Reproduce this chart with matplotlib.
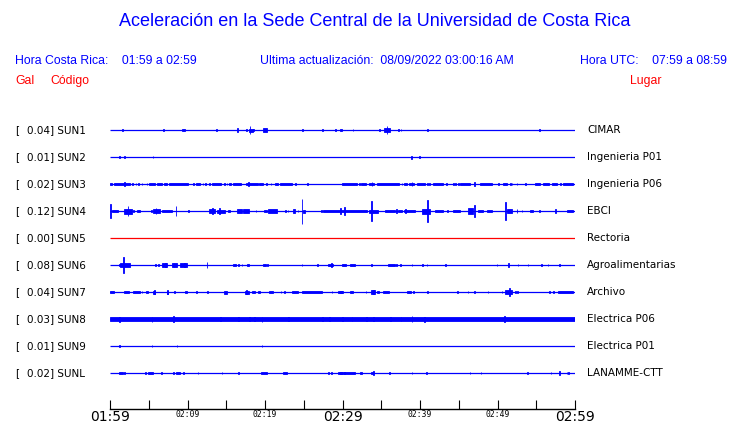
import matplotlib
matplotlib.use('Agg')
import matplotlib.pyplot as plt

# estaciones, aceleracion maxima (Gal) y lugar
stations = ['SUN1', 'SUN2', 'SUN3', 'SUN4', 'SUN5', 'SUN6', 'SUN7', 'SUN8', 'SUN9', 'SUNL']
gal = [0.04, 0.01, 0.02, 0.12, 0.00, 0.08, 0.04, 0.03, 0.01, 0.02]
places = ['CIMAR', 'Ingenieria P01', 'Ingenieria P06', 'EBCI', 'Rectoria',
          'Agroalimentarias', 'Archivo', 'Electrica P06', 'Electrica P01', 'LANAMME-CTT']

# minutos desde 01:59 -> etiquetas
tick_minutes = [0, 5, 10, 15, 20, 25, 30, 35, 40, 45, 50, 55, 60]
tick_labels = ['01:59', '', '02:09', '', '02:19', '', '02:29', '', '02:39', '', '02:49', '', '02:59']

# rafagas de cada traza: (minuto inicio, minuto fin, amplitud relativa)
sun1 = [(1.6, 1.6, 1), (6.9, 6.9, 1), (9.3, 9.7, 1.3), (13.7, 13.7, 1), (16.4, 16.5, 2.3),
        (17.6, 17.6, 1), (18.0, 18.0, 4), (17.9, 18.4, 1.5), (18.5, 18.5, 1), (19.7, 20.2, 1.7),
        (24.8, 24.8, 1), (27.4, 27.4, 1), (29.0, 29.2, 1.3), (29.7, 29.9, 1), (31.3, 31.3, 1),
        (34.7, 34.7, 1), (35.7, 35.7, 4), (35.4, 36.1, 1.7), (37.2, 37.2, 1.3), (37.5, 37.5, 1),
        (40.9, 40.9, 1), (55.4, 55.4, 1)]
sun2 = [(1.2, 1.2, 1), (1.8, 1.8, 1), (5.5, 5.5, 1.3), (38.8, 39.0, 1.5), (39.9, 39.9, 1)]
sun3 = [(0.0, 0.2, 1.3), (0.52, 2.58, 1.3), (1.85, 1.85, 1.8), (2.88, 2.88, 1.3), (3.31, 3.31, 1.3),
        (3.66, 3.74, 1.3), (4.09, 4.09, 1.3), (4.73, 4.73, 1.3), (5.08, 5.81, 1.3), (6.02, 6.75, 1.3),
        (7.01, 7.31, 1.3), (7.66, 10.02, 1.3), (10.75, 10.75, 1.3), (11.1, 11.6, 1.3), (11.96, 11.96, 1.3),
        (12.26, 12.26, 1.3), (12.82, 12.82, 1.3), (13.2, 14.32, 1.3), (14.7, 14.7, 1.3), (15.05, 15.05, 1.3),
        (15.35, 15.6, 1.3), (15.83, 16.9, 1.3), (17.5, 19.05, 1.3), (17.85, 17.85, 1.8), (19.27, 19.78, 1.3),
        (20.13, 20.13, 1.3), (20.73, 20.73, 1.3), (21.29, 21.63, 1.3), (21.94, 23.44, 1.3), (23.87, 23.87, 1.3),
        (25.46, 25.46, 1.3), (29.89, 31.83, 1.3), (32.13, 32.13, 1.3), (32.39, 33.03, 1.3), (33.42, 34.1, 1.3),
        (33.76, 33.76, 1.6), (34.4, 37.33, 1.3), (37.63, 37.63, 1.3), (37.93, 38.28, 1.3), (38.62, 39.23, 1.3),
        (38.92, 38.92, 1.8), (39.57, 40.65, 1.3), (40.95, 40.95, 1.3), (41.2, 41.2, 1.3), (41.72, 42.92, 1.3),
        (43.35, 43.35, 1.3), (44.3, 44.3, 1.3), (44.52, 44.52, 1.3), (44.95, 44.95, 1.3), (45.16, 46.45, 1.3),
        (47.01, 47.01, 1.8), (47.74, 49.25, 1.3), (50.11, 50.11, 1.3), (50.75, 51.18, 1.3), (51.61, 51.61, 1.3),
        (51.83, 51.83, 1.3), (52.47, 52.47, 1.3), (53.59, 53.59, 1.3), (54.84, 55.48, 1.3), (55.91, 56.69, 1.3),
        (56.99, 57.63, 1.3), (58.06, 58.06, 1.3), (58.41, 59.78, 1.3)]
sun4 = [(0.0, 0.0, 6.7), (0.21, 0.99, 1.0), (1.81, 2.8, 2.5), (2.28, 2.28, 5.3), (3.01, 3.14, 1.0),
        (3.44, 3.87, 1.3), (5.29, 5.38, 1.0), (5.59, 6.45, 1.8), (5.89, 5.89, 2.7), (6.67, 7.96, 1.3),
        (8.47, 8.47, 4.7), (10.1, 10.1, 1.0), (12.82, 13.55, 2.0), (13.2, 13.2, 2.7), (13.76, 14.84, 1.5),
        (14.1, 14.1, 2.7), (15.27, 15.48, 1.0), (16.34, 16.99, 2.0), (17.2, 17.94, 1.7), (18.8, 18.8, 1.0),
        (19.91, 20.2, 1.0), (20.34, 21.5, 1.7), (22.58, 22.58, 1.0), (22.92, 22.92, 1.0), (23.66, 23.87, 2.0),
        (24.2, 24.2, 1.0), (24.73, 24.73, 12.5), (24.95, 25.16, 1.5), (27.23, 27.23, 1.0), (27.53, 29.68, 1.3),
        (29.68, 29.68, 2.7), (30.19, 30.19, 4.0), (29.68, 33.12, 1.3), (33.68, 33.68, 10.0), (33.42, 34.62, 1.5),
        (35.48, 36.77, 1.3), (36.9, 36.9, 2.0), (37.2, 37.63, 1.0), (38.06, 38.06, 2.3), (37.98, 39.35, 1.3),
        (40.22, 41.29, 2.5), (40.95, 40.95, 11.0), (41.94, 43.01, 1.0), (43.53, 43.53, 1.0), (44.3, 45.16, 1.3),
        (46.15, 46.88, 2.7), (47.01, 47.01, 6.0), (47.53, 48.17, 1.3), (48.6, 49.25, 1.0), (50.97, 50.97, 9.0),
        (51.18, 51.83, 1.7), (52.47, 52.47, 2.0), (53.12, 53.12, 1.0), (54.19, 54.62, 1.0), (55.4, 55.4, 1.0),
        (57.42, 57.42, 2.0), (58.92, 59.78, 1.3)]
sun5 = []
sun6 = [(1.72, 1.72, 8.0), (1.29, 2.58, 2.0), (1.15, 1.15, 1.0), (5.8, 5.8, 1.0), (6.24, 6.24, 1.0),
        (6.67, 7.31, 1.7), (7.1, 7.1, 2.3), (7.96, 8.6, 1.7), (8.2, 8.2, 2.3), (9.03, 9.89, 1.7),
        (9.6, 9.6, 2.3), (12.47, 12.47, 2.7), (15.83, 16.22, 1.3), (16.56, 16.56, 1.3), (16.99, 16.99, 1.0),
        (17.63, 17.98, 1.3), (19.78, 20.08, 1.3), (20.3, 20.3, 1.0), (24.73, 24.73, 1.3), (26.75, 26.75, 1.3),
        (28.17, 28.82, 1.3), (28.5, 28.5, 2.0), (29.89, 30.45, 1.3), (30.97, 31.61, 1.3), (33.68, 33.68, 1.0),
        (35.91, 36.77, 1.3), (36.9, 36.9, 1.0), (37.42, 37.42, 1.0), (38.92, 38.92, 1.0), (40.22, 40.43, 1.3),
        (40.86, 40.86, 1.3), (43.22, 43.22, 1.0), (49.89, 49.89, 1.3), (51.4, 51.4, 2.0), (52.6, 52.6, 1.3),
        (53.89, 53.89, 1.3), (55.61, 55.61, 1.0), (56.47, 56.47, 1.3), (57.93, 57.93, 1.0)]
sun7 = [(0.0, 0.56, 1.3), (1.81, 2.45, 1.3), (3.01, 3.87, 1.3), (4.09, 4.09, 1.0), (4.6, 4.86, 1.3),
        (5.51, 5.81, 1.5), (5.65, 5.65, 2.3), (7.31, 7.53, 1.5), (7.4, 7.4, 2.3), (8.3, 8.3, 1.0),
        (9.68, 9.98, 1.3), (11.1, 11.27, 1.3), (12.56, 12.56, 1.0), (14.71, 15.14, 1.5), (17.42, 17.94, 1.5),
        (17.6, 17.6, 2.0), (18.28, 18.71, 1.0), (19.05, 19.35, 1.0), (20.56, 21.08, 1.3), (22.02, 22.02, 1.0),
        (22.45, 22.45, 1.0), (23.44, 24.3, 0.9), (24.73, 27.31, 1.3), (28.6, 28.6, 1.3), (29.46, 29.89, 1.0),
        (29.68, 30.11, 1.0), (30.97, 31.4, 1.0), (32.99, 32.99, 1.0), (33.68, 34.19, 1.7), (33.9, 33.9, 2.3),
        (34.4, 34.75, 1.0), (35.27, 36.04, 1.3), (38.28, 38.8, 1.3), (39.14, 39.14, 1.0), (40.95, 40.95, 1.0),
        (44.82, 44.82, 1.0), (46.15, 46.15, 1.0), (47.01, 47.01, 1.0), (48.73, 48.73, 1.0), (50.54, 50.54, 1.0),
        (50.97, 51.83, 1.7), (51.48, 51.48, 4.0), (52.26, 52.26, 1.0), (52.56, 52.56, 1.0), (56.69, 56.69, 1.0),
        (57.2, 57.2, 1.0), (57.85, 59.78, 1.3)]
sun8 = [(0.0, 60.0, 1.7), (1.2, 1.2, 2.5), (5.38, 5.38, 2.5), (8.17, 8.17, 3.4), (14.19, 14.19, 2.0),
        (16.56, 16.56, 2.3), (17.94, 17.94, 2.2), (18.62, 18.62, 2.0), (19.57, 19.57, 2.5), (23.0, 23.0, 2.0),
        (27.4, 27.4, 2.2), (28.3, 28.3, 2.2), (29.98, 29.98, 2.2), (31.18, 31.18, 2.0), (33.03, 33.03, 2.3),
        (33.98, 33.98, 2.0), (36.13, 36.13, 2.0), (37.5, 37.5, 2.3), (38.92, 38.92, 3.4), (40.52, 40.52, 2.5),
        (50.88, 50.88, 2.7)]
sun9 = [(1.2, 1.2, 1.0), (5.38, 5.38, 1.3), (8.6, 8.6, 1.0), (19.57, 19.57, 1.3)]
sunl = [(1.16, 1.72, 1.3), (1.85, 1.85, 1.0), (4.52, 4.52, 1.0), (4.86, 5.51, 1.3), (6.6, 6.6, 1.3),
        (8.17, 8.17, 1.0), (8.52, 9.03, 1.3), (9.46, 9.46, 1.0), (11.31, 11.31, 1.0), (14.41, 14.41, 1.0),
        (16.56, 16.56, 1.0), (19.48, 20.2, 1.3), (22.28, 22.8, 1.3), (28.17, 28.17, 1.0), (28.52, 28.52, 1.0),
        (29.46, 29.98, 1.0), (30.24, 30.24, 1.0), (29.68, 31.61, 1.3), (32.26, 32.56, 1.0), (33.68, 33.98, 1.3),
        (33.98, 33.98, 2.0), (36.0, 36.0, 1.0), (38.92, 38.92, 1.0), (40.73, 40.95, 1.0), (46.41, 46.41, 1.0),
        (47.83, 47.83, 1.0), (53.85, 53.85, 1.0), (56.86, 56.86, 1.0), (57.93, 57.93, 2.0), (58.92, 58.92, 1.0),
        (59.14, 59.14, 1.0)]
bursts = [sun1, sun2, sun3, sun4, sun5, sun6, sun7, sun8, sun9, sunl]
colors = ['blue'] * 4 + ['red'] + ['blue'] * 5

W, H = 740, 423
fig = plt.figure(figsize=(W / 100, H / 100), dpi=100)
ax = fig.add_axes([110 / W, 1 - 409 / H, 465 / W, 294 / H])

row_px = 27.0
for i, (ev, c) in enumerate(zip(bursts, colors)):
    y = -i
    ax.plot([0, 60], [y, y], color=c, lw=0.9, solid_capstyle='butt')
    if ev:
        starts = [e[0] for e in ev]
        widths = [max(e[1] - e[0], 0.1) for e in ev]
        amps = [e[2] / row_px for e in ev]
        ax.bar(starts, [2 * a for a in amps], bottom=[y - a for a in amps], width=widths,
               align='edge', color=c, edgecolor=c, linewidth=0.6)
    ax.text(-95 / 465 * 60, y, '[', fontsize=7.5, va='center', ha='left', color='black')
    ax.text(-83 / 465 * 60, y, f'{gal[i]:.2f}] {stations[i]}', fontsize=7.5, va='center',
            ha='left', color='black')
    ax.text(60 + 12 / 465 * 60, y, places[i], fontsize=7.5, va='center', ha='left', color='black')

ax.set_xlim(0, 60)
ax.set_ylim(-10.333, 0.556)
for s in ['top', 'left', 'right']:
    ax.spines[s].set_visible(False)
ax.spines['bottom'].set_linewidth(1.0)
ax.set_yticks([])
ax.set_xticks(tick_minutes)
ax.set_xticklabels(tick_labels)
ax.tick_params(axis='x', direction='in', length=6.5, width=0.8, pad=1)
for m, lab in zip(tick_minutes, ax.get_xticklabels()):
    if m % 30 == 0:
        lab.set_fontsize(10)
        lab.set_family('DejaVu Sans')
    else:
        lab.set_fontsize(5.8)
        lab.set_family('DejaVu Sans Mono')

hdr = dict(family='Liberation Sans', color='blue', fontsize=8.8, va='center')
fig.text(375 / W, 1 - 22 / H, 'Aceleración en la Sede Central de la Universidad de Costa Rica',
         family='Liberation Sans', color='blue', fontsize=13, ha='center', va='center')
fig.text(15 / W, 1 - 61 / H, 'Hora Costa Rica:    01:59 a 02:59', ha='left', **hdr)
fig.text(260 / W, 1 - 61 / H, 'Ultima actualización:  08/09/2022 03:00:16 AM', ha='left', **hdr)
fig.text(580 / W, 1 - 61 / H, 'Hora UTC:    07:59 a 08:59', ha='left', **hdr)
red = dict(family='Liberation Sans', color='red', fontsize=8.8, va='center')
fig.text(15 / W, 1 - 81 / H, 'Gal', ha='left', **red)
fig.text(50 / W, 1 - 81 / H, 'Código', ha='left', **red)
fig.text(630 / W, 1 - 81 / H, 'Lugar', ha='left', **red)

fig.savefig('out.png', dpi=100)
